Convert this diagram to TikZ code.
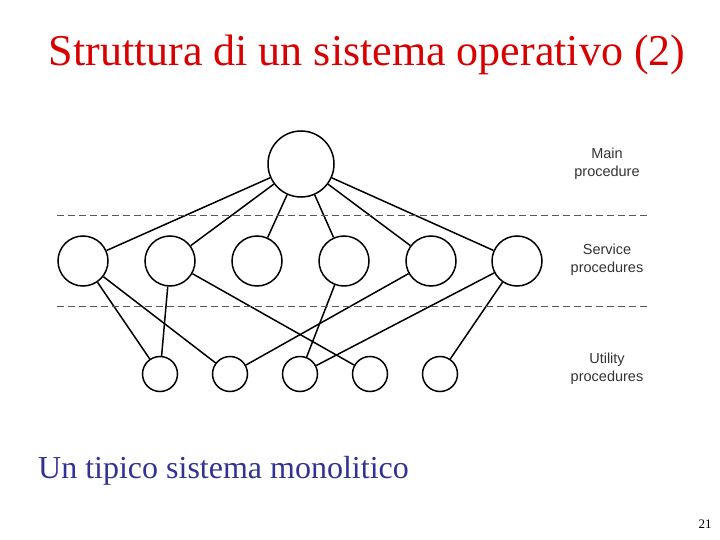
\documentclass[tikz,border=0pt]{standalone}
\usepackage{fontspec}
\setmainfont{Liberation Serif}
\newfontfamily\lsans{Liberation Sans}
\definecolor{capblue}{RGB}{50,50,150}
\begin{document}
\begin{tikzpicture}[x=1pt,y=-1pt,
  big/.style={draw,circle,minimum size=66pt,inner sep=0pt,line width=1.5pt},
  mid/.style={draw,circle,minimum size=50pt,inner sep=0pt,line width=1.5pt},
  sml/.style={draw,circle,minimum size=35pt,inner sep=0pt,line width=1.5pt},
  edge/.style={line width=1.5pt},
  sep/.style={dash pattern=on 7pt off 4pt,line width=1pt,gray!70!black},
  lab/.style={font=\lsans\fontsize{14.5}{18}\selectfont,align=center,text=black!80}]
\useasboundingbox (0,0) rectangle (720,540);
\node[font=\fontsize{44}{50}\selectfont,text=red!85!black] (title) at (367,55) {Struttura di un sistema operativo (2)};
\node[big] (m) at (301,164) {};
\foreach \i/\x in {1/83,2/170,3/257,4/344,5/431,6/517} \node[mid] (s\i) at (\x,261) {};
\foreach \i/\x in {1/160,2/230,3/300,4/370,5/440} \node[sml] (u\i) at (\x,374) {};
\foreach \i in {1,...,6} \draw[edge] (m) -- (s\i);
\foreach \a/\b in {1/1,1/2,2/1,2/4,4/3,5/2,6/3,6/5} \draw[edge] (s\a) -- (u\b);
\coordinate (d1a) at (57,216); \coordinate (d1b) at (650,216);
\coordinate (d2a) at (57,306); \coordinate (d2b) at (650,306);
\draw[sep] (d1a) -- (d1b);
\draw[sep] (d2a) -- (d2b);
\node[lab] (l1) at (607,164) {Main\\procedure};
\node[lab] (l2) at (607,260) {Service\\procedures};
\node[lab] (l3) at (607,369) {Utility\\procedures};
\node[anchor=west,inner sep=0pt,font=\fontsize{32}{36}\selectfont,text=capblue] (cap) at (38,471) {Un tipico sistema monolitico};
\node[font=\fontsize{13}{16}\selectfont] (pg) at (705,524) {21};
\end{tikzpicture}
\end{document}
